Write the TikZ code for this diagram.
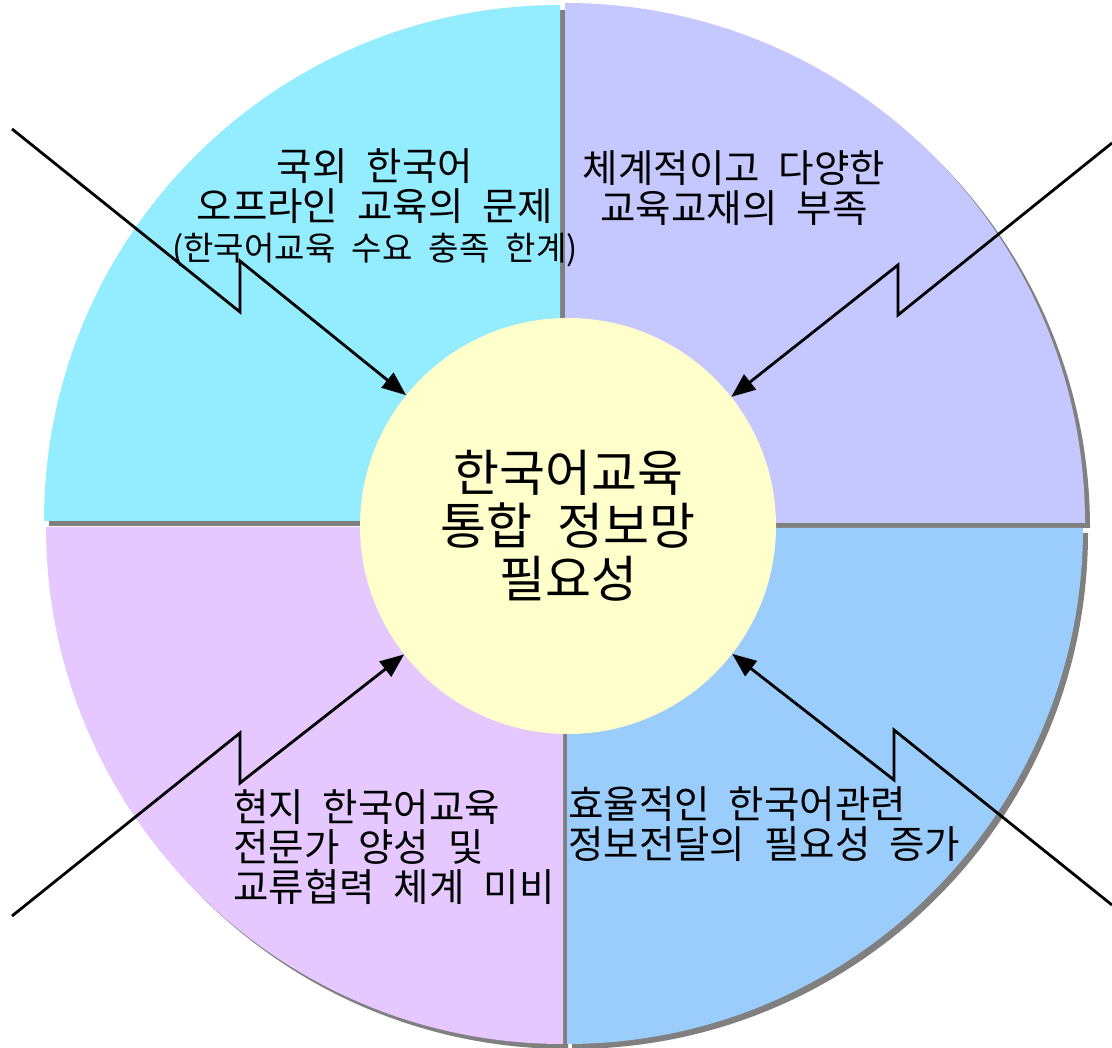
\documentclass[tikz,border=0pt]{standalone}
\usepackage{fontspec}
\setmainfont{Noto Sans CJK KR}[WordSpace=2.2]
\usepackage{tikz}
\usetikzlibrary{arrows.meta}
\definecolor{skyq}{HTML}{94ECFF}
\definecolor{lavq}{HTML}{C5C8FF}
\definecolor{blueq}{HTML}{9ACDFC}
\definecolor{purpq}{HTML}{E4C8FF}
\definecolor{hubyellow}{HTML}{FFFFCC}
\definecolor{shadowgray}{HTML}{808080}
\tikzstyle{zigarrow} = [line width=2.8pt,-{Triangle[length=24pt,width=19pt]}]
\tikzstyle{issue} = [inner sep=0pt, font=\fontsize{38.5}{40}\selectfont]

\begin{document}
\begin{tikzpicture}[x=1pt,y=1pt]
      \useasboundingbox (0,0) rectangle (1112,1048);
      % Shadows
      \fill[shadowgray, shift={(5,-5)}] (560,527) -- ++(90:516) arc[start angle=90,end angle=180,radius=516] -- cycle;
      \fill[shadowgray, shift={(5,-5)}] (565,525) -- ++(0:520) arc[start angle=0,end angle=90,radius=520] -- cycle;
      \fill[shadowgray, shift={(5,-5)}] (567,520) -- ++(270:516) arc[start angle=270,end angle=360,radius=516] -- cycle;
      \fill[shadowgray, shift={(5,-5)}] (563,521) -- ++(180:517) arc[start angle=180,end angle=270,radius=517] -- cycle;

      % Wedges
      \fill[skyq] (560,527) -- ++(90:516) arc[start angle=90,end angle=180,radius=516] -- cycle;
      \fill[lavq] (565,525) -- ++(0:520) arc[start angle=0,end angle=90,radius=520] -- cycle;
      \fill[blueq] (567,520) -- ++(270:516) arc[start angle=270,end angle=360,radius=516] -- cycle;
      \fill[purpq] (563,521) -- ++(180:517) arc[start angle=180,end angle=270,radius=517] -- cycle;

      % Nodes
      \node[circle, fill=hubyellow, minimum size=416pt, inner sep=0pt, align=center,
            font=\fontsize{50}{53}\selectfont] (hub) at (568,522) {한국어교육\\통합 정보망\\필요성};
      \node[issue, align=center] (offline) at (375,840) {국외 한국어\\오프라인 교육의 문제\\{\fontsize{33}{40}\selectfont (한국어교육 수요 충족 한계)}};
      \node[issue, align=center] (material) at (734,860) {체계적이고 다양한\\교육교재의 부족};
      \node[issue, align=left, anchor=west] (expert) at (233,201) {현지 한국어교육\\전문가 양성 및\\교류협력 체계 미비};
      \node[issue, align=left, anchor=west] (delivery) at (568,224) {효율적인 한국어관련\\정보전달의 필요성 증가};

      \coordinate (tlstart) at (12,919);
      \coordinate (trstart) at (1112,905);
      \coordinate (blstart) at (12,132);
      \coordinate (brstart) at (1112,143);

      % Edges
      \draw[zigarrow] (tlstart) -- (240,736) -- (240,787) -- (hub);
      \draw[zigarrow] (trstart) -- (898,733) -- (898,783) -- (hub);
      \draw[zigarrow] (blstart) -- (240,315) -- (240,265) -- (hub);
      \draw[zigarrow] (brstart) -- (894,318) -- (894,268) -- (hub);
  \end{tikzpicture}
\end{document}
